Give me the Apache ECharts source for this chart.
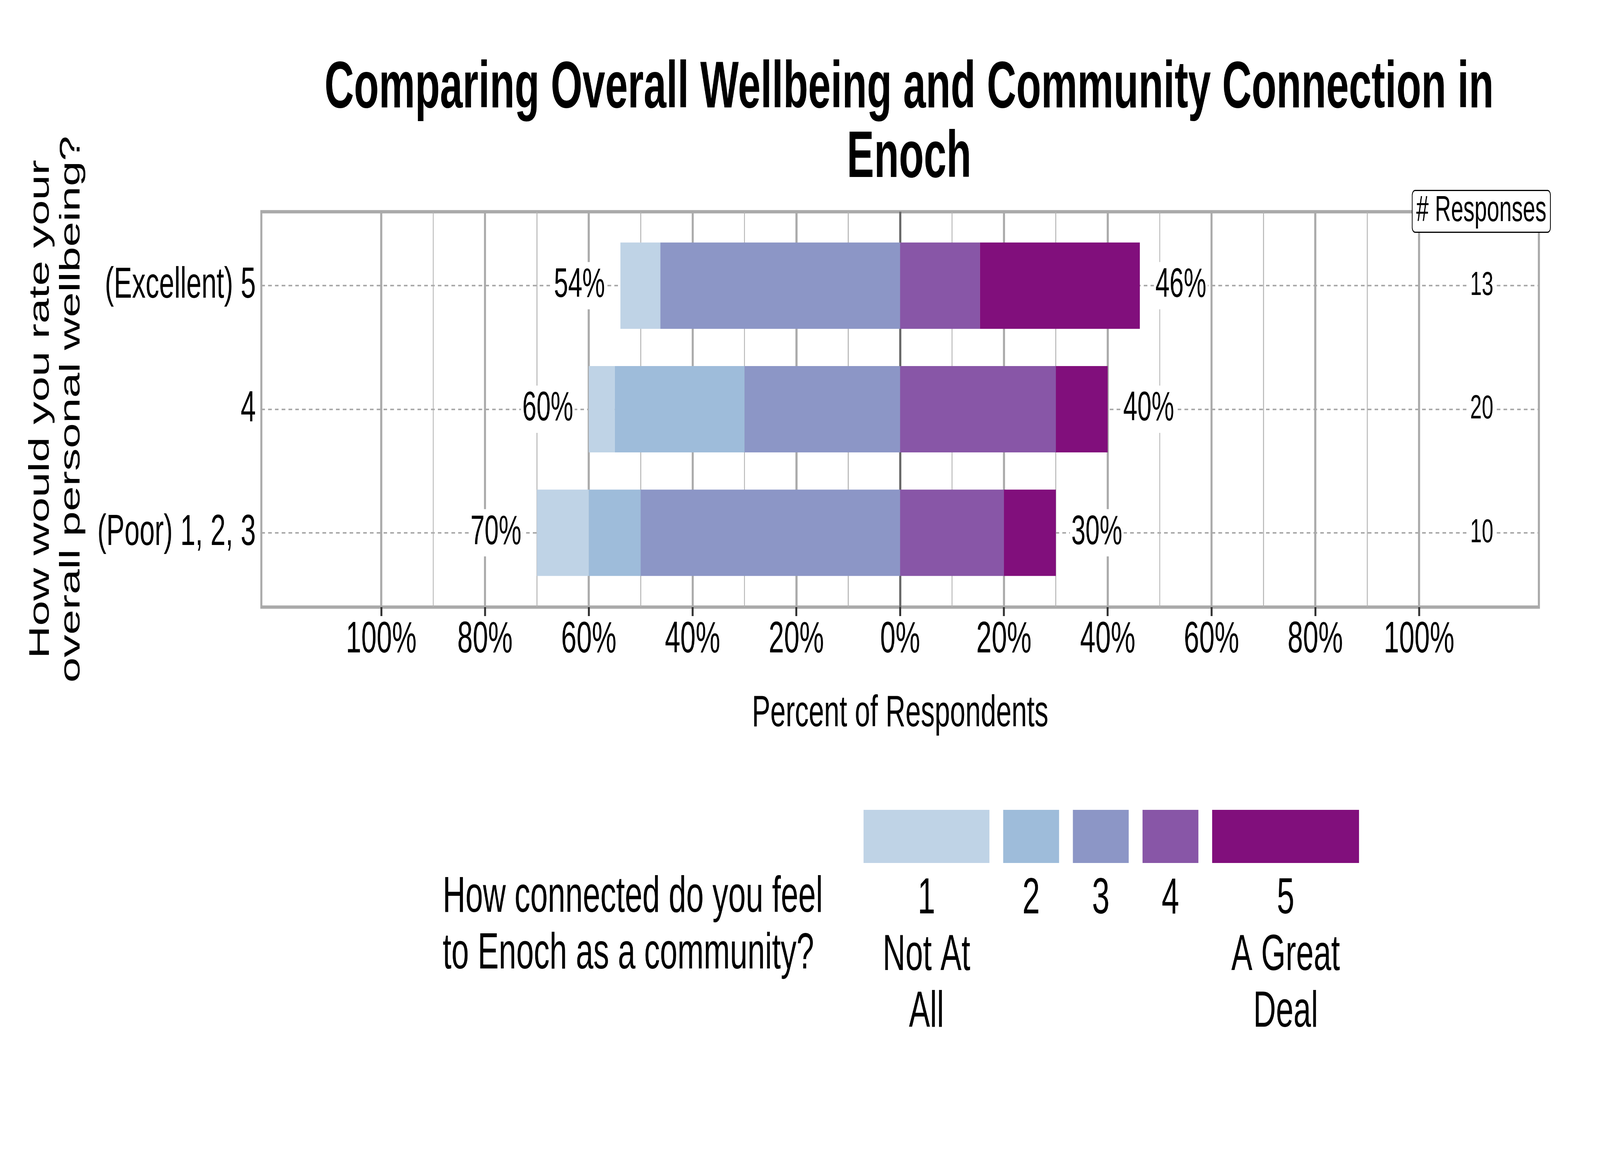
<!DOCTYPE html>
<html>
<head>
<meta charset="utf-8">
<script src="https://cdn.jsdelivr.net/npm/echarts@6/dist/echarts.min.js"></script>
<style>
  html, body { margin: 0; padding: 0; background: #fff; overflow: hidden; }
  #wrap { width: 6600px; height: 3000px; transform-origin: 0 0; }
  #chart { width: 6600px; height: 3000px; }
</style>
</head>
<body>
<div id="wrap"><div id="chart"></div></div>
<script>
const FONT = '"Liberation Sans", Arial, sans-serif';

// rows, top to bottom
const rows = ['(Excellent) 5', '4', '(Poor) 1, 2, 3'];
const responses = [13, 20, 10];

// percent of respondents per answer, same row order
const notAtAll = [7.7, 5, 10];
const two = [0, 25, 10];
const three = [46.2, 30, 50];
const four = [15.4, 30, 20];
const greatDeal = [30.8, 10, 10];

const levels = ['1', '2', '3', '4', '5'];
const levelNotes = ['Not At\nAll', '', '', '', 'A Great\nDeal'];
const colors = ['#BFD3E6', '#9EBCDA', '#8C96C6', '#8856A7', '#810F7C'];

const majorTicks = [-100, -80, -60, -40, -20, 0, 20, 40, 60, 80, 100];
const minorTicks = [-90, -70, -50, -30, -10, 10, 30, 50, 70, 90];

const leftTotals = rows.map((r, i) => Math.round(notAtAll[i] + two[i] + three[i]));
const rightTotals = rows.map((r, i) => Math.round(four[i] + greatDeal[i]));

// the window can be narrower than the 6600x3000 figure: squeeze the whole page to fit
const sx = Math.min(1, window.innerWidth / 6600);
const sy = Math.min(1, window.innerHeight / 3000);
document.getElementById('wrap').style.transform = 'scale(' + sx + ',' + sy + ')';

const XMAX = 123.1;
const GL = 1078, GW = 5270;

const totalLabel = {
  show: true,
  fontSize: 105,
  fontFamily: FONT,
  color: '#000',
  backgroundColor: '#fff',
  padding: [8, 6]
};

// left side stacks outward from 0: 3, 2, 1 ; right side: 4, 5
const segs = [
  { name: '3', vals: three, sign: -1, color: colors[2] },
  { name: '2', vals: two, sign: -1, color: colors[1] },
  { name: '1', vals: notAtAll, sign: -1, color: colors[0], side: 'left' },
  { name: '4', vals: four, sign: 1, color: colors[3] },
  { name: '5', vals: greatDeal, sign: 1, color: colors[4], side: 'right' }
];

const series = segs.map(s => ({
  name: s.name,
  type: 'bar',
  stack: 'likert',
  xAxisIndex: 3,
  yAxisIndex: 1,
  barWidth: 221,
  itemStyle: { color: s.color },
  label: s.side ? Object.assign({}, totalLabel, {
    position: s.side,
    distance: 58,
    formatter: p => (s.side === 'left' ? leftTotals : rightTotals)[p.dataIndex] + '%'
  }) : { show: false },
  data: s.vals.map(v => s.sign * v)
}));

// legend drawn below the plot
const mctx = document.createElement('canvas').getContext('2d');
mctx.font = '130px ' + FONT;
const legend = [{
  type: 'text',
  left: 1826,
  top: 2226,
  style: {
    text: 'How connected do you feel\nto Enoch as a community?',
    font: '130px ' + FONT,
    lineHeight: 145,
    fill: '#000'
  }
}];
let lx = 3562;
levels.forEach((lv, i) => {
  const txt = levelNotes[i] ? lv + '\n' + levelNotes[i] : lv;
  const w = Math.max(...txt.split('\n').map(t => mctx.measureText(t).width)) + 158;
  legend.push({
    type: 'rect',
    shape: { x: lx, y: 2073, width: w, height: 136 },
    style: { fill: colors[i] }
  });
  legend.push({
    type: 'text',
    x: lx + w / 2,
    y: 2230,
    style: {
      text: txt,
      font: '130px ' + FONT,
      lineHeight: 145,
      align: 'center',
      verticalAlign: 'top',
      fill: '#000'
    }
  });
  lx += w + 57;
});

const chart = echarts.init(document.getElementById('chart'));
chart.setOption({
  animation: false,
  backgroundColor: '#fff',
  title: [{
    text: 'Comparing Overall Wellbeing and Community Connection in\nEnoch',
    left: 3750,
    top: 140,
    textAlign: 'center',
    padding: 0,
    textStyle: { fontSize: 168, fontWeight: 'bold', fontFamily: FONT, color: '#000', lineHeight: 178 }
  }, {
    text: '# Responses',
    left: 5825,
    top: 487,
    padding: [8, 17],
    borderColor: '#000',
    borderWidth: 3,
    borderRadius: 12,
    backgroundColor: '#fff',
    textStyle: { fontSize: 92, fontWeight: 'normal', fontFamily: FONT, color: '#000' }
  }],
  grid: [
    { left: GL, top: 542, width: GW, height: 1012, show: true, borderColor: '#aaa', borderWidth: 8.5, backgroundColor: 'transparent' },
    { left: GL, top: 573, width: GW, height: 949 },
    { left: GL, top: 731, width: GW, height: 633 }
  ],
  xAxis: [
    {
      gridIndex: 0, type: 'value', position: 'bottom', min: -XMAX, max: XMAX,
      axisLine: { show: false },
      axisTick: { show: true, customValues: majorTicks, length: 23, lineStyle: { color: '#333', width: 8 } },
      axisLabel: {
        customValues: majorTicks, margin: 28, fontSize: 114, fontFamily: FONT, color: '#000',
        formatter: v => Math.abs(v) + '%'
      },
      splitLine: { show: true, lineStyle: { color: '#aaa', width: 8.5 } },
      name: 'Percent of Respondents',
      nameLocation: 'middle',
      nameGap: 217,
      nameTextStyle: { fontSize: 114, fontFamily: FONT, color: '#000' }
    },
    {
      gridIndex: 0, type: 'value', position: 'bottom', min: -XMAX, max: XMAX,
      axisLine: { show: false },
      axisTick: { show: false, customValues: minorTicks },
      axisLabel: { show: false },
      splitLine: { show: true, lineStyle: { color: '#b3b3b3', width: 3.7 } }
    },
    {
      gridIndex: 0, type: 'value', position: 'bottom', min: -XMAX, max: XMAX,
      axisLine: { show: false },
      axisTick: { show: false, customValues: [0] },
      axisLabel: { show: false },
      splitLine: { show: true, lineStyle: { color: '#666', width: 9 } }
    },
    { gridIndex: 1, type: 'value', min: -XMAX, max: XMAX, show: false },
    { gridIndex: 2, type: 'value', min: 0, max: 1, show: false }
  ],
  yAxis: [
    { gridIndex: 0, type: 'value', min: 0, max: 1, show: false },
    {
      gridIndex: 1, type: 'category', data: rows, inverse: true,
      axisLine: { show: false }, axisTick: { show: false },
      axisLabel: { margin: 23, fontSize: 112, fontFamily: FONT, color: '#000' },
      splitLine: { show: false },
      name: 'How would you rate your\noverall personal wellbeing?',
      nameLocation: 'middle',
      nameRotate: 90,
      nameGap: 718,
      nameTextStyle: { fontSize: 116, fontFamily: FONT, color: '#000', lineHeight: 127 }
    },
    {
      gridIndex: 1, type: 'category', position: 'right', data: responses.map(String), inverse: true,
      axisLine: { show: false }, axisTick: { show: false },
      axisLabel: {
        inside: true, margin: 176, fontSize: 86, fontFamily: FONT, color: '#000',
        backgroundColor: '#fff', padding: [6, 12]
      },
      splitLine: { show: false }
    },
    {
      gridIndex: 2, type: 'category', data: rows, boundaryGap: false,
      axisLine: { show: false }, axisTick: { show: false }, axisLabel: { show: false },
      splitLine: { show: true, interval: 0, lineStyle: { color: '#aaa', width: 4, type: [15, 13] } }
    }
  ],
  series: series,
  graphic: legend
});
</script>
</body>
</html>
